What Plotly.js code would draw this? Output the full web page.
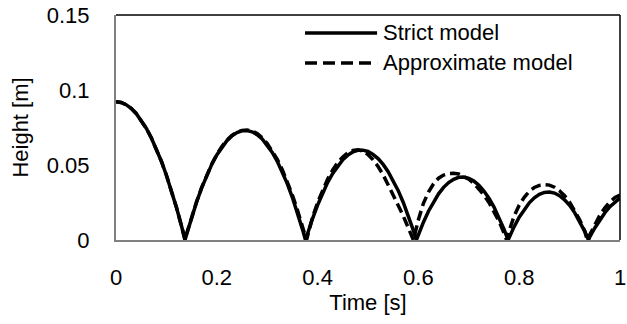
<!DOCTYPE html>
<html>
<head>
<meta charset="utf-8">
<script src="https://cdn.plot.ly/plotly-3.0.1.min.js"></script>
<style>html,body{margin:0;padding:0;background:#fff}#chart{width:627px;height:324px}</style>
</head>
<body>
<div id="chart"></div>
<script>
// Strict model: time [s] and height [m]
var strictTime = [0,0.01,0.02,0.03,0.04,0.05,0.06,0.07,0.08,0.09,0.10,0.11,0.12,0.13,0.137,
  0.14,0.15,0.16,0.17,0.18,0.19,0.20,0.21,0.22,0.23,0.24,0.25,0.26,0.27,0.28,0.29,0.30,0.31,0.32,0.33,0.34,0.35,0.36,0.37,0.376,
  0.38,0.39,0.40,0.41,0.42,0.43,0.44,0.45,0.46,0.47,0.48,0.49,0.50,0.51,0.52,0.53,0.54,0.55,0.56,0.57,0.58,0.59,0.596,
  0.60,0.61,0.62,0.63,0.64,0.65,0.66,0.67,0.68,0.69,0.70,0.71,0.72,0.73,0.74,0.75,0.76,0.77,0.778,
  0.78,0.79,0.80,0.81,0.82,0.83,0.84,0.85,0.86,0.87,0.88,0.89,0.90,0.91,0.92,0.93,0.9375,
  0.94,0.95,0.96,0.97,0.98,0.99,1.0];
var strictHeight = [0.0922,0.0917,0.0902,0.0878,0.0844,0.0799,0.0745,0.0682,0.0608,0.0525,0.0432,0.0329,0.0216,0.0093,0,
  0.0036,0.0150,0.0254,0.0348,0.0431,0.0504,0.0567,0.0619,0.0662,0.0694,0.0716,0.0728,0.0729,0.0721,0.0702,0.0673,0.0633,0.0584,0.0524,0.0454,0.0374,0.0283,0.0182,0.0071,0,
  0.0043,0.0143,0.0233,0.0314,0.0384,0.0444,0.0495,0.0536,0.0566,0.0587,0.0598,0.0599,0.0590,0.0571,0.0543,0.0504,0.0455,0.0397,0.0329,0.0250,0.0162,0.0064,0,
  0.0036,0.0119,0.0192,0.0255,0.0308,0.0351,0.0383,0.0405,0.0418,0.0420,0.0411,0.0393,0.0365,0.0326,0.0278,0.0219,0.0150,0.0071,0,
  0.0016,0.0089,0.0152,0.0205,0.0248,0.0281,0.0304,0.0317,0.0320,0.0313,0.0295,0.0268,0.0231,0.0183,0.0126,0.0058,0,
  0.0020,0.0080,0.0135,0.0182,0.0222,0.0255,0.0280];

// Approximate model: time [s] and height [m]
var approxTime = [0,0.01,0.02,0.03,0.04,0.05,0.06,0.07,0.08,0.09,0.10,0.11,0.12,0.13,0.137,
  0.14,0.15,0.16,0.17,0.18,0.19,0.20,0.21,0.22,0.23,0.24,0.25,0.26,0.27,0.28,0.29,0.30,0.31,0.32,0.33,0.34,0.35,0.36,0.37,0.378,
  0.38,0.39,0.40,0.41,0.42,0.43,0.44,0.45,0.46,0.47,0.48,0.49,0.50,0.51,0.52,0.53,0.54,0.55,0.56,0.57,0.58,0.59,
  0.60,0.61,0.62,0.63,0.64,0.65,0.66,0.67,0.68,0.69,0.70,0.71,0.72,0.73,0.74,0.75,0.76,0.77,0.775,
  0.78,0.79,0.80,0.81,0.82,0.83,0.84,0.85,0.86,0.87,0.88,0.89,0.90,0.91,0.92,0.93,0.935,
  0.94,0.95,0.96,0.97,0.98,0.99,1.0];
var approxHeight = [0.0922,0.0917,0.0902,0.0878,0.0844,0.0799,0.0745,0.0682,0.0608,0.0525,0.0432,0.0329,0.0216,0.0093,0,
  0.0040,0.0152,0.0256,0.0350,0.0434,0.0507,0.0570,0.0623,0.0665,0.0697,0.0719,0.0731,0.0734,0.0727,0.0710,0.0682,0.0643,0.0595,0.0537,0.0468,0.0389,0.0300,0.0200,0.0090,0,
  0.0025,0.0152,0.0250,0.0335,0.0407,0.0467,0.0516,0.0554,0.0581,0.0597,0.0601,0.0593,0.0570,0.0535,0.0490,0.0435,0.0370,0.0300,0.0230,0.0160,0.0085,0,
  0.0135,0.0245,0.0320,0.0375,0.0412,0.0433,0.0443,0.0445,0.0440,0.0425,0.0405,0.0378,0.0343,0.0300,0.0250,0.0192,0.0125,0.0045,0,
  0.0060,0.0160,0.0232,0.0285,0.0325,0.0350,0.0364,0.0369,0.0366,0.0352,0.0328,0.0295,0.0252,0.0198,0.0135,0.0060,0,
  0.0035,0.0105,0.0165,0.0215,0.0255,0.0283,0.0300];

var seriesNames = ["Strict model", "Approximate model"];
var xTickVals = [0, 0.2, 0.4, 0.6, 0.8, 1];
var xTickText = ["0", "0.2", "0.4", "0.6", "0.8", "1"];
var yTickVals = [0, 0.05, 0.1, 0.15];
var yTickText = ["0", "0.05", "0.1", "0.15"];

var FONT = "Liberation Sans, Arial, sans-serif";
var FS = 22;

var traces = [
  {x: strictTime, y: strictHeight, name: seriesNames[0], type: "scatter", mode: "lines",
   line: {color: "#000", width: 3.5}, showlegend: false},
  {x: approxTime, y: approxHeight, name: seriesNames[1], type: "scatter", mode: "lines",
   line: {color: "#000", width: 3.5, dash: "10px,5px"}, showlegend: false}
];

var layout = {
  width: 627, height: 324,
  margin: {l: 115.5, r: 6.5, t: 15, b: 84},
  paper_bgcolor: "#fff", plot_bgcolor: "#fff",
  font: {family: FONT, size: FS, color: "#000"},
  showlegend: false,
  xaxis: {
    range: [0, 1], tickvals: xTickVals, ticktext: xTickText, ticks: "",
    showgrid: false, zeroline: false, showline: true, linecolor: "#808080", linewidth: 2,
    ticklabelstandoff: 17, ticklabeloverflow: "allow", tickfont: {family: FONT, size: FS, color: "#000"},
    title: {text: "Time [s]", font: {family: FONT, size: FS, color: "#000"}, standoff: 3}
  },
  yaxis: {
    range: [0, 0.15], tickvals: yTickVals, ticktext: yTickText, ticks: "",
    showgrid: false, zeroline: false, showline: true, linecolor: "#808080", linewidth: 2,
    ticklabelstandoff: 20, ticklabeloverflow: "allow", tickfont: {family: FONT, size: FS, color: "#000"},
    title: {text: "Height [m]", font: {family: FONT, size: FS, color: "#000"}, standoff: 12}
  },
  shapes: [
    {type: "line", xref: "paper", yref: "paper", x0: 0, x1: 1, y0: 1, y1: 1, line: {color: "#000", width: 1.5}, layer: "below"},
    {type: "line", xref: "paper", yref: "paper", x0: 1, x1: 1, y0: 0, y1: 1, line: {color: "#000", width: 1.5}, layer: "below"},
    {type: "line", xref: "paper", yref: "paper", x0: 0.375, x1: 0.518, y0: 0.92, y1: 0.92, line: {color: "#000", width: 3.5}},
    {type: "line", xref: "paper", yref: "paper", x0: 0.375, x1: 0.518, y0: 0.787, y1: 0.787, line: {color: "#000", width: 3.5, dash: "12px,6px"}}
  ],
  annotations: [
    {xref: "paper", yref: "paper", x: 0.526, y: 0.92, xanchor: "left", yanchor: "middle", showarrow: false,
     text: seriesNames[0], font: {family: FONT, size: FS, color: "#000"}},
    {xref: "paper", yref: "paper", x: 0.526, y: 0.787, xanchor: "left", yanchor: "middle", showarrow: false,
     text: seriesNames[1], font: {family: FONT, size: FS, color: "#000"}}
  ]
};

Plotly.newPlot("chart", traces, layout, {displayModeBar: false, staticPlot: true});
</script>
</body>
</html>
